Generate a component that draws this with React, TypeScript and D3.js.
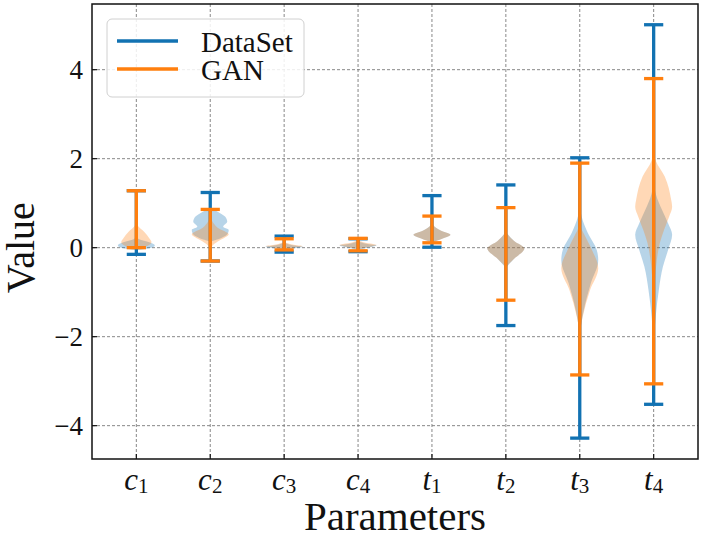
import React from 'react';
import * as d3 from 'd3';

// parameter names: italic letter + subscript
const categories = ['c1', 'c2', 'c3', 'c4', 't1', 't2', 't3', 't4'];
const yTicks = [-4, -2, 0, 2, 4];

// extrema (caps)
const dataMin = [-0.15, -0.3, -0.1, -0.09, 0.01, -1.75, -4.28, -3.52];
const dataMax = [1.28, 1.24, 0.26, 0.2, 1.17, 1.41, 2.02, 5.01];
const ganMin = [0.0, -0.3, -0.05, -0.07, 0.11, -1.18, -2.86, -3.06];
const ganMax = [1.28, 0.86, 0.2, 0.21, 0.71, 0.9, 1.9, 3.8];

// violin outlines: [value, relative half-width]
const dataShapes: [number, number][][] = [
  [[-0.06, 0], [-0.01, 0.75], [0.05, 1], [0.12, 0.7], [0.19, 0.15], [0.25, 0]],
  [[0.14, 0], [0.22, 0.6], [0.29, 0.9], [0.4, 1], [0.47, 0.7], [0.58, 0.92], [0.7, 0.8], [0.81, 0.4], [0.9, 0]],
  [[-0.06, 0], [-0.02, 0.5], [0.02, 1], [0.06, 0.4], [0.11, 0]],
  [[-0.04, 0], [0.0, 0.5], [0.05, 1], [0.09, 0.45], [0.14, 0]],
  [[0.12, 0], [0.2, 0.55], [0.29, 1], [0.38, 0.5], [0.47, 0.15], [0.56, 0]],
  [[-0.45, 0], [-0.25, 0.45], [-0.02, 1], [0.15, 0.45], [0.36, 0]],
  [[-2.1, 0], [-1.78, 0.06], [-1.4, 0.22], [-0.8, 0.6], [-0.28, 1], [-0.05, 0.92], [0.32, 0.45], [0.7, 0.1], [0.95, 0]],
  [[-2.3, 0], [-2.0, 0.03], [-1.55, 0.11], [-0.95, 0.28], [-0.43, 0.5], [-0.05, 0.78], [0.29, 1], [0.55, 0.78], [0.85, 0.45], [1.2, 0.12], [1.5, 0]],
];
const ganShapes: [number, number][][] = [
  [[-0.03, 0], [0.03, 0.55], [0.12, 0.82], [0.21, 0.7], [0.36, 0.42], [0.48, 0.1], [0.58, 0]],
  [[-0.02, 0], [0.06, 0.15], [0.16, 0.5], [0.3, 1], [0.45, 0.4], [0.6, 0.1], [0.68, 0]],
  [[-0.04, 0], [0.0, 0.5], [0.03, 1], [0.07, 0.45], [0.12, 0]],
  [[-0.03, 0], [0.01, 0.5], [0.06, 1], [0.11, 0.4], [0.18, 0]],
  [[0.12, 0], [0.2, 0.55], [0.29, 1], [0.38, 0.5], [0.47, 0.15], [0.56, 0]],
  [[-0.43, 0], [-0.25, 0.45], [-0.02, 1], [0.15, 0.45], [0.34, 0]],
  [[-1.9, 0], [-1.55, 0.16], [-0.95, 0.56], [-0.46, 1], [-0.05, 0.66], [0.25, 0.3], [0.5, 0.03], [0.6, 0]],
  [[-1.0, 0], [-0.8, 0.05], [-0.28, 0.17], [0.1, 0.33], [0.4, 0.56], [0.7, 0.84], [0.92, 1], [1.07, 0.95], [1.6, 0.6], [1.95, 0.12], [2.15, 0]],
];

const BLUE = '#1272b2';
const ORANGE = '#ff7f0e';
const SERIF = '"Liberation Serif", "Times New Roman", Times, serif';

export default function App() {
  const W = 704;
  const H = 539;
  const left = 92;
  const right = 698;
  const top = 4;
  const bottom = 459;

  const x = d3.scaleLinear().domain([0.4, 8.6]).range([left, right]);
  const y = d3.scaleLinear().domain([-4.749, 5.476]).range([bottom, top]);
  const halfW = x(1.25) - x(1);
  const capW = x(1.13) - x(1);

  const violin = (pos: number, shape: [number, number][]) =>
    d3.area<[number, number]>()
      .x0(d => x(pos) - d[1] * halfW)
      .x1(d => x(pos) + d[1] * halfW)
      .y(d => y(d[0]))
      .curve(d3.curveMonotoneY)(shape) || '';

  const series = [
    { color: BLUE, shapes: dataShapes, mins: dataMin, maxs: dataMax },
    { color: ORANGE, shapes: ganShapes, mins: ganMin, maxs: ganMax },
  ];

  return (
    <svg width={W} height={H} style={{ position: 'absolute', left: 0, top: 0, background: '#fff' }} fontFamily={SERIF}>
      {/* grid */}
      <g stroke="#7a7a7a" strokeWidth={0.9} strokeDasharray="3,2">
        {categories.map((c, i) => (
          <line key={c} x1={x(i + 1)} x2={x(i + 1)} y1={top} y2={bottom} />
        ))}
        {yTicks.map(t => (
          <line key={t} x1={left} x2={right} y1={y(t)} y2={y(t)} />
        ))}
      </g>

      {series.map((s, si) => (
        <g key={si}>
          {s.shapes.map((shape, i) => (
            <path key={i} d={violin(i + 1, shape)} fill={s.color} fillOpacity={0.3} stroke="none" />
          ))}
          <g stroke={s.color} strokeWidth={3.3}>
            {categories.map((c, i) => (
              <g key={c}>
                <line x1={x(i + 1)} x2={x(i + 1)} y1={y(s.mins[i])} y2={y(s.maxs[i])} />
                <line x1={x(i + 1) - capW} x2={x(i + 1) + capW} y1={y(s.mins[i])} y2={y(s.mins[i])} />
                <line x1={x(i + 1) - capW} x2={x(i + 1) + capW} y1={y(s.maxs[i])} y2={y(s.maxs[i])} />
              </g>
            ))}
          </g>
        </g>
      ))}

      {/* frame and inward ticks */}
      <rect x={left} y={top} width={right - left} height={bottom - top} fill="none" stroke="#111" strokeWidth={1.5} />
      <g stroke="#111" strokeWidth={1.2}>
        {categories.map((c, i) => (
          <line key={c} x1={x(i + 1)} x2={x(i + 1)} y1={bottom} y2={bottom - 5} />
        ))}
        {yTicks.map(t => (
          <line key={t} x1={left} x2={left + 5} y1={y(t)} y2={y(t)} />
        ))}
      </g>

      {/* tick labels */}
      {yTicks.map(t => (
        <text key={t} x={left - 9} y={y(t)} dy="0.35em" textAnchor="end" fontSize={27} fill="#111">
          {t < 0 ? `\u2212${-t}` : `${t}`}
        </text>
      ))}
      {categories.map((c, i) => (
        <text key={c} x={x(i + 1)} y={490} textAnchor="middle" fill="#111">
          <tspan fontStyle="italic" fontSize={31}>{c[0]}</tspan>
          <tspan fontSize={21} dy={3}>{c.slice(1)}</tspan>
        </text>
      ))}

      {/* axis titles */}
      <text x={(left + right) / 2} y={530} textAnchor="middle" fontSize={41} fill="#111">Parameters</text>
      <text transform={`translate(34,${y(0)}) rotate(-90)`} textAnchor="middle" fontSize={40} fill="#111">Value</text>

      {/* legend */}
      <rect x={107} y={19} width={197} height={78} rx={5} fill="#fff" fillOpacity={0.85} stroke="#d0d0d0" strokeWidth={1} />
      <line x1={117} x2={178} y1={41} y2={41} stroke={BLUE} strokeWidth={3.3} />
      <line x1={117} x2={178} y1={69} y2={69} stroke={ORANGE} strokeWidth={3.3} />
      <text x={201} y={52} fontSize={29} fill="#111">DataSet</text>
      <text x={201} y={80} fontSize={29} fill="#111">GAN</text>
    </svg>
  );
}
